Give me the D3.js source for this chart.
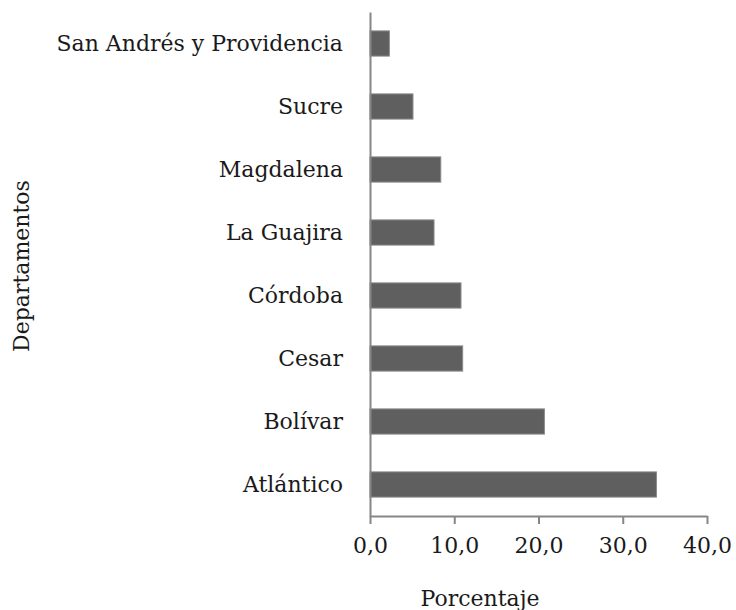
<!DOCTYPE html>
<html>
<head>
<meta charset="utf-8">
<script src="https://cdn.jsdelivr.net/npm/d3@7"></script>
<style>
  body { margin: 0; background: #fff; }
  text { font-family: "DejaVu Serif", "Liberation Serif", serif; fill: #1a1a1a; }
</style>
</head>
<body>
<div id="chart"></div>
<script>
// departamentos, de arriba hacia abajo
const departamentos = ["San Andrés y Providencia", "Sucre", "Magdalena", "La Guajira",
                       "Córdoba", "Cesar", "Bolívar", "Atlántico"];
const porcentajes = [2.3, 5.1, 8.4, 7.6, 10.8, 11.0, 20.7, 34.0];
const xTicks = [0, 10, 20, 30, 40];

const w = 736, h = 610;
const margin = { top: 12, right: 29, bottom: 94, left: 370 };
const fontSize = 22;

const svg = d3.select("#chart")
  .append("svg")
  .attr("width", w)
  .attr("height", h);

const xScale = d3.scaleLinear()
  .domain([0, 40])
  .range([margin.left, w - margin.right]);

const yScale = d3.scaleBand()
  .domain(departamentos)
  .range([margin.top, h - margin.bottom])
  .paddingInner(0.6)
  .paddingOuter(0.3);

const fmt = (d) => d.toFixed(1).replace(".", ",");

// bars
svg.selectAll("rect")
  .data(departamentos)
  .enter()
  .append("rect")
  .attr("x", xScale(0))
  .attr("y", (d) => yScale(d))
  .attr("width", (d, i) => xScale(porcentajes[i]) - xScale(0))
  .attr("height", yScale.bandwidth())
  .attr("fill", "#5f5f5f")
  .attr("stroke", "#8a8a8a")
  .attr("stroke-width", 1);

const xAxis = d3.axisBottom(xScale)
  .tickValues(xTicks)
  .tickFormat(fmt)
  .tickSize(8)
  .tickSizeOuter(0)
  .tickPadding(13);

const gx = svg.append("g")
  .attr("transform", "translate(0," + (h - margin.bottom) + ")")
  .call(xAxis);
gx.selectAll("line, path").attr("stroke", "#868686").attr("stroke-width", 2);
gx.selectAll("text").attr("font-size", fontSize).style("font-family", "DejaVu Serif").attr("fill", "#1a1a1a");

const yAxis = d3.axisLeft(yScale)
  .tickSize(0)
  .tickSizeOuter(0)
  .tickPadding(27);

const gy = svg.append("g")
  .attr("transform", "translate(" + margin.left + ",0)")
  .call(yAxis);
gy.select("path").attr("stroke", "#868686").attr("stroke-width", 2);
gy.selectAll("text").attr("font-size", fontSize).style("font-family", "DejaVu Serif").attr("fill", "#1a1a1a");

// axis titles
svg.append("text")
  .attr("x", 480)
  .attr("y", 606)
  .attr("text-anchor", "middle")
  .attr("font-size", fontSize)
  .text("Porcentaje");

svg.append("text")
  .attr("transform", "translate(29,266) rotate(-90)")
  .attr("text-anchor", "middle")
  .attr("font-size", fontSize)
  .text("Departamentos");
</script>
</body>
</html>
